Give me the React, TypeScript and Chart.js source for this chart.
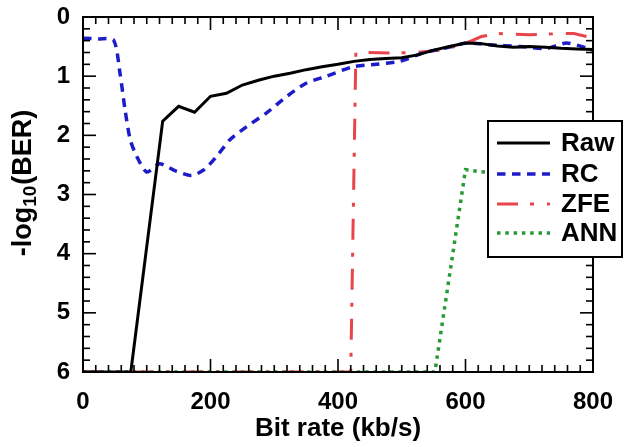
import React, { useEffect, useRef } from "react";
import { Chart, registerables } from "chart.js";

Chart.register(...registerables);

const xTickValues = [0, 200, 400, 600, 800];
const yTickValues = [0, 1, 2, 3, 4, 5, 6];

const seriesLabels = ["Raw", "RC", "ZFE", "ANN"];

const rawX = [0, 75, 125, 150, 175, 200, 225, 250, 275, 300, 325, 350, 375, 400, 425, 450, 475, 500, 525, 550, 575, 600, 625, 650, 675, 700, 725, 750, 775, 800];
const rawY = [6, 6, 1.76, 1.51, 1.61, 1.34, 1.29, 1.15, 1.07, 1.0, 0.95, 0.89, 0.84, 0.8, 0.75, 0.72, 0.7, 0.69, 0.64, 0.56, 0.5, 0.44, 0.45, 0.49, 0.51, 0.5, 0.51, 0.53, 0.54, 0.55];

const rcX = [0, 25, 48, 58, 66, 74, 84, 100, 120, 145, 170, 190, 210, 230, 257, 288, 320, 350, 382, 424, 460, 497, 533, 570, 602, 637, 686, 727, 759, 800];
const rcY = [0.36, 0.37, 0.39, 0.95, 1.57, 2.07, 2.35, 2.62, 2.48, 2.6, 2.68, 2.58, 2.35, 2.08, 1.85, 1.62, 1.34, 1.12, 1.0, 0.84, 0.8, 0.75, 0.61, 0.52, 0.44, 0.47, 0.5, 0.53, 0.44, 0.56];

const zfeX = [0, 420, 428, 440, 480, 520, 560, 590, 610, 625, 650, 700, 750, 770, 790, 800];
const zfeY = [6, 6, 0.6, 0.6, 0.61, 0.6, 0.56, 0.48, 0.4, 0.33, 0.28, 0.3, 0.28, 0.28, 0.33, 0.36];

const annX = [0, 552, 600, 625, 650, 700, 750, 800];
const annY = [6, 6, 2.58, 2.62, 2.6, 2.55, 2.5, 2.45];

const toPoints = (xs: number[], ys: number[]) => xs.map((x, i) => ({ x, y: ys[i] }));

const FONT = "'Liberation Sans', Arial, Helvetica, sans-serif";

const xMinorStep = 20;
const yMinorStep = 0.2;

const framePlugin = {
  id: "frameTicks",
  afterDraw(chart: any) {
    const ctx = chart.ctx;
    const a = chart.chartArea;
    const xs = chart.scales.x;
    const ys = chart.scales.y;
    ctx.save();
    const fw = 2;
    ctx.fillStyle = "#000";
    ctx.fillRect(a.left - fw / 2, a.top - fw / 2, a.right - a.left + fw, fw);
    ctx.fillRect(a.left - fw / 2, a.bottom - fw / 2, a.right - a.left + fw, fw);
    ctx.fillRect(a.left - fw / 2, a.top - fw / 2, fw, a.bottom - a.top + fw);
    ctx.fillRect(a.right - fw / 2, a.top - fw / 2, fw, a.bottom - a.top + fw);

    const tw = 1.6;
    const xVals: number[] = [];
    for (let v = 0; v <= 800.001; v += xMinorStep) xVals.push(Math.round(v));
    xVals.forEach((v) => {
      const L = v % 200 === 0 ? 13 : 7;
      const px = xs.getPixelForValue(v);
      ctx.fillStyle = "#000";
      ctx.fillRect(px - tw / 2, a.bottom - L, tw, L);
      ctx.fillRect(px - tw / 2, a.top, tw, L);
    });
    const yVals: number[] = [];
    for (let k = 0; k <= 30; k++) yVals.push(k);
    yVals.forEach((k) => {
      const L = k % 5 === 0 ? 13 : 7;
      const py = ys.getPixelForValue(k * yMinorStep);
      ctx.fillStyle = "#000";
      ctx.fillRect(a.left, py - tw / 2, L, tw);
      ctx.fillRect(a.right - L, py - tw / 2, L, tw);
    });

    // Legend box
    const bx = 488, by = 121, bw = 134, bh = 136;
    ctx.fillStyle = "#fff";
    ctx.fillRect(bx, by, bw, bh);
    ctx.fillStyle = "#000";
    ctx.fillRect(bx - 1, by - 1, bw + 2, 2);
    ctx.fillRect(bx - 1, by + bh - 1, bw + 2, 2);
    ctx.fillRect(bx - 1, by - 1, 2, bh + 2);
    ctx.fillRect(bx + bw - 1, by - 1, 2, bh + 2);
    const rows = [143, 174, 204, 233];
    chart.data.datasets.forEach((ds: any, i: number) => {
      const y = rows[i];
      ctx.save();
      ctx.strokeStyle = ds.borderColor;
      ctx.lineWidth = ds.borderWidth;
      ctx.setLineDash(ds.borderDash || []);
      ctx.lineCap = "butt";
      ctx.beginPath();
      ctx.moveTo(497, y);
      ctx.lineTo(550, y);
      ctx.stroke();
      ctx.restore();
      ctx.fillStyle = "#000";
      ctx.font = `bold 26px ${FONT}`;
      ctx.textBaseline = "middle";
      ctx.textAlign = "left";
      ctx.fillText(ds.label, 561, y + 1);
    });

    // Y axis title with subscript
    const p1 = "-log", sub = "10", p2 = "(BER)";
    ctx.translate(24, 183);
    ctx.rotate(-Math.PI / 2);
    ctx.fillStyle = "#000";
    ctx.textBaseline = "middle";
    ctx.textAlign = "left";
    ctx.font = `bold 27px ${FONT}`;
    const w1 = ctx.measureText(p1).width;
    const w3 = ctx.measureText(p2).width;
    ctx.font = `bold 19px ${FONT}`;
    const w2 = ctx.measureText(sub).width;
    const total = w1 + w2 + w3 + 1;
    let x = -total / 2;
    ctx.font = `bold 27px ${FONT}`;
    ctx.fillText(p1, x, 0);
    x += w1;
    ctx.font = `bold 19px ${FONT}`;
    ctx.fillText(sub, x, 7);
    x += w2 + 1;
    ctx.font = `bold 27px ${FONT}`;
    ctx.fillText(p2, x, 0);
    ctx.restore();
  },
};

export default function App() {
  const ref = useRef<HTMLCanvasElement>(null);
  useEffect(() => {
    if (!ref.current) return;
    const chart = new Chart(ref.current, {
      type: "line",
      data: {
        datasets: [
          {
            label: seriesLabels[0],
            data: toPoints(rawX, rawY),
            borderColor: "#000000",
            borderWidth: 3,
            pointRadius: 0,
            tension: 0,
          },
          {
            label: seriesLabels[1],
            data: toPoints(rcX, rcY),
            borderColor: "#1c1cc8",
            borderWidth: 3.5,
            borderDash: [8.5, 6.5],
            pointRadius: 0,
            tension: 0.25,
          },
          {
            label: seriesLabels[2],
            data: toPoints(zfeX, zfeY),
            borderColor: "#e8454b",
            borderWidth: 3,
            borderDash: [21, 12, 4, 13],
            pointRadius: 0,
            tension: 0,
          },
          {
            label: seriesLabels[3],
            data: toPoints(annX, annY),
            borderColor: "#259a35",
            borderWidth: 3.5,
            borderDash: [3.5, 4.8],
            pointRadius: 0,
            tension: 0,
          },
        ],
      },
      options: {
        responsive: false,
        animation: false,
        events: [],
        layout: { padding: { top: 17, right: 31, left: 0, bottom: 0 } },
        plugins: { legend: { display: false }, tooltip: { enabled: false }, title: { display: false } },
        scales: {
          x: {
            type: "linear",
            min: 0,
            max: 800,
            afterFit: (s: any) => {
              s.height = 75;
              s.paddingLeft = 0;
              s.paddingRight = 0;
            },
            afterBuildTicks: (s: any) => {
              s.ticks = xTickValues.map((v) => ({ value: v }));
            },
            grid: { display: false },
            border: { display: false },
            ticks: {
              color: "#000",
              padding: 8,
              maxRotation: 0,
              font: { family: FONT, size: 24, weight: "bold" },
            },
            title: {
              display: true,
              text: "Bit rate (kb/s)",
              color: "#000",
              font: { family: FONT, size: 26, weight: "bold" },
              padding: { top: 0, bottom: 3 },
            },
          },
          y: {
            type: "linear",
            reverse: true,
            min: 0,
            max: 6,
            afterFit: (s: any) => {
              s.width = 83;
              s.paddingTop = 0;
              s.paddingBottom = 0;
            },
            afterBuildTicks: (s: any) => {
              s.ticks = yTickValues.map((v) => ({ value: v }));
            },
            grid: { display: false },
            border: { display: false },
            ticks: {
              color: "#000",
              padding: 5,
              font: { family: FONT, size: 24, weight: "bold" },
            },
          },
        },
      },
      plugins: [framePlugin],
    } as any);
    return () => chart.destroy();
  }, []);
  return (
    <div style={{ position: "fixed", left: 0, top: 0, width: 624, height: 447, background: "#fff" }}>
      <canvas ref={ref} width={624} height={447} style={{ width: 624, height: 447 }} />
    </div>
  );
}
